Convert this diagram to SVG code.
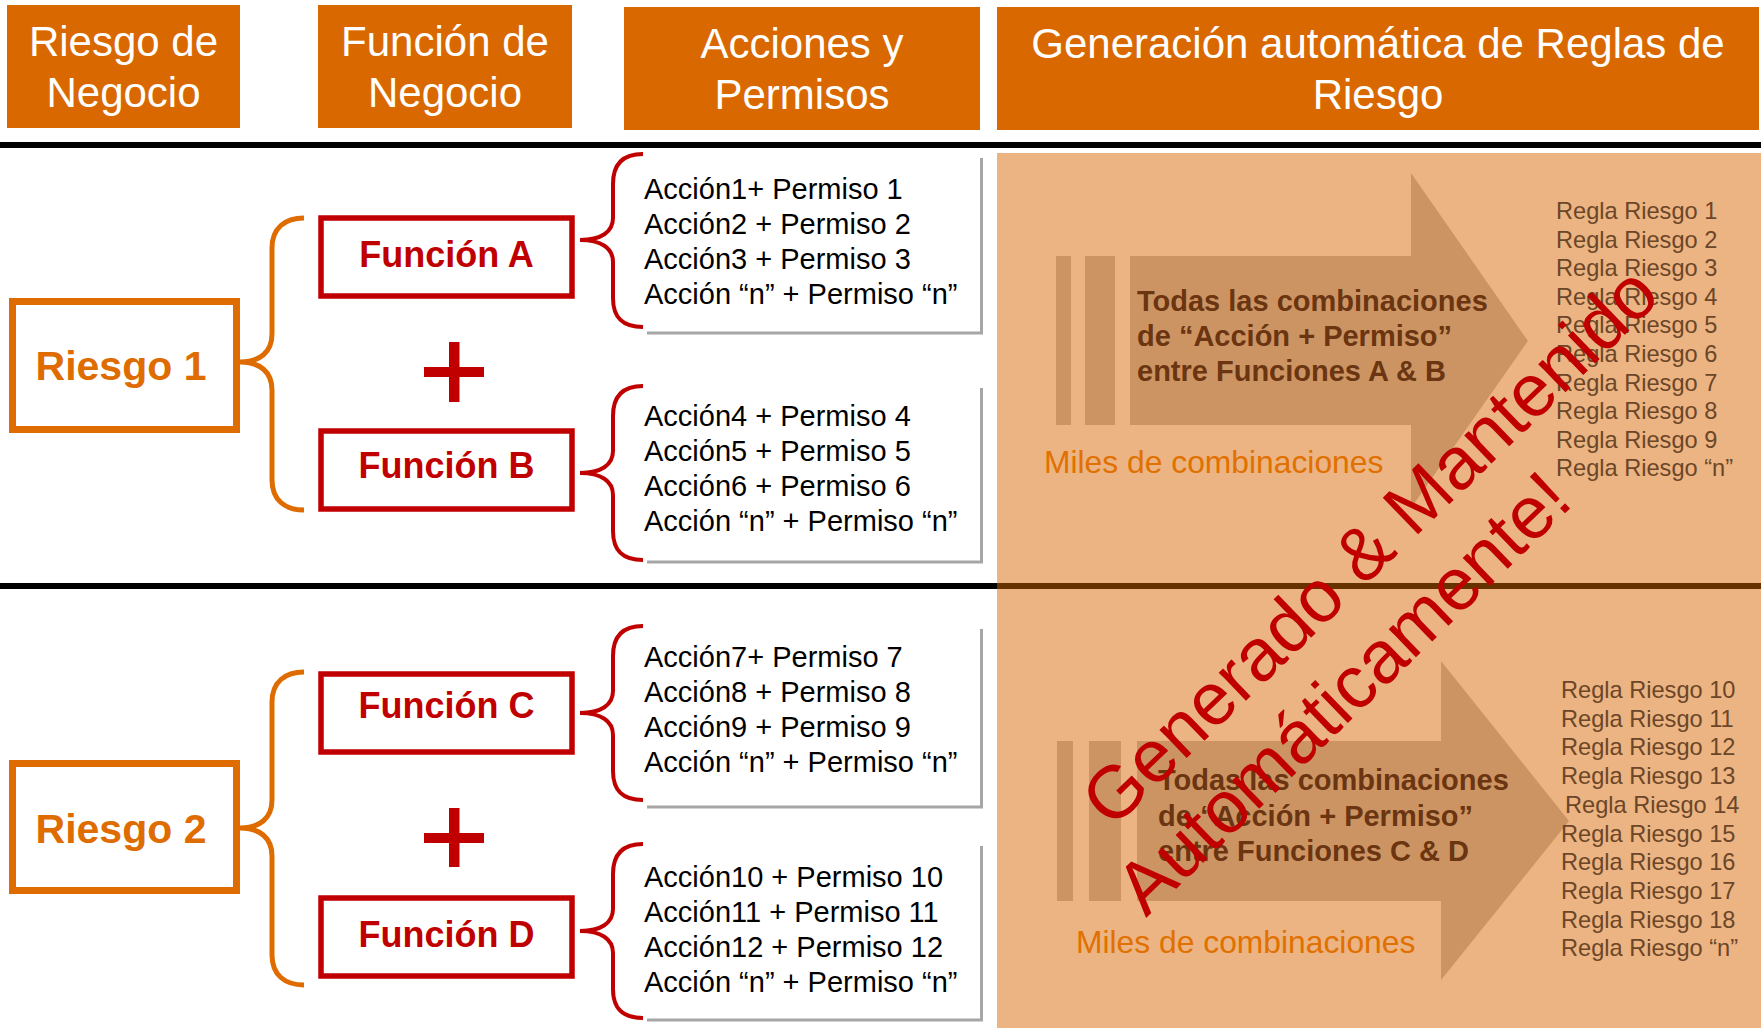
<svg xmlns="http://www.w3.org/2000/svg" width="1761" height="1028" viewBox="0 0 1761 1028">
<defs>
<style>
text{font-family:"Liberation Sans",Arial,Helvetica,sans-serif;}
.hdr{fill:#DA6800;}
.hdrt{fill:#FFFFFF;font-size:42px;text-anchor:middle;}
.rbox{fill:#FFFFFF;stroke:#DE6C00;stroke-width:7;}
.rtxt{fill:#DE6C00;font-size:41px;font-weight:bold;text-anchor:middle;}
.fbox{fill:#FFFFFF;stroke:#C00000;stroke-width:5.5;}
.ftxt{fill:#C00000;font-size:36px;font-weight:bold;text-anchor:middle;}
.plus{fill:#C00000;}
.shadow{fill:none;stroke:#A6A6A6;stroke-width:3;}
.atxt{fill:#000000;font-size:29px;}
.obrace{fill:none;stroke:#DE6C00;stroke-width:5;}
.rbrace{fill:none;stroke:#C00000;stroke-width:4;}
.arrow{fill:#CD9463;}
.btxt{fill:#6A3510;font-size:29px;font-weight:bold;}
.miles{fill:#E07000;font-size:31.8px;}
.regla{fill:#6B4628;font-size:23.6px;}
.wm{fill:#C00000;font-size:74px;}
</style>
</defs>
<rect x="0" y="0" width="1761" height="1028" fill="#FFFFFF"/>

<!-- headers -->
<g id="header-riesgo">
<rect class="hdr" x="7" y="5" width="233" height="123"/>
<text class="hdrt" x="123.5" y="56">Riesgo de</text>
<text class="hdrt" x="123.5" y="107">Negocio</text>
</g>
<g id="header-funcion">
<rect class="hdr" x="318" y="5" width="254" height="123"/>
<text class="hdrt" x="445" y="56">Función de</text>
<text class="hdrt" x="445" y="107">Negocio</text>
</g>
<g id="header-acciones">
<rect class="hdr" x="624" y="7" width="356" height="123"/>
<text class="hdrt" x="802" y="58">Acciones y</text>
<text class="hdrt" x="802" y="109">Permisos</text>
</g>
<g id="header-generacion">
<rect class="hdr" x="997" y="7" width="762" height="123"/>
<text class="hdrt" x="1378" y="58">Generación automática de Reglas de</text>
<text class="hdrt" x="1378" y="109">Riesgo</text>
</g>

<!-- separators -->
<g id="separators">
<rect x="0" y="142" width="1761" height="6" fill="#000000"/>
<rect x="0" y="583" width="997" height="6" fill="#000000"/>
</g>

<!-- right panel -->
<g id="panel">
<rect x="997" y="153" width="764" height="875" fill="#ECB482"/>
<rect x="997" y="583" width="764" height="6" fill="#663300"/>
</g>

<!-- Riesgo nodes -->
<g id="riesgo-1">
<rect class="rbox" x="12.5" y="301.5" width="224" height="128"/>
<text class="rtxt" x="121" y="380">Riesgo 1</text>
</g>
<g id="riesgo-2">
<rect class="rbox" x="12.5" y="763.5" width="224" height="127"/>
<text class="rtxt" x="121" y="843">Riesgo 2</text>
</g>

<!-- Funcion nodes -->
<g id="funcion-a">
<rect class="fbox" x="321" y="218" width="251" height="78"/>
<text class="ftxt" x="446.5" y="267">Función A</text>
</g>
<g id="funcion-b">
<rect class="fbox" x="321" y="431" width="251" height="78"/>
<text class="ftxt" x="446.5" y="478">Función B</text>
</g>
<g id="funcion-c">
<rect class="fbox" x="321" y="674" width="251" height="78"/>
<text class="ftxt" x="446.5" y="718">Función C</text>
</g>
<g id="funcion-d">
<rect class="fbox" x="321" y="898" width="251" height="78"/>
<text class="ftxt" x="446.5" y="947">Función D</text>
</g>

<g id="plus-1">
<rect class="plus" x="449" y="342" width="10.5" height="60"/>
<rect class="plus" x="424" y="367" width="60" height="10"/>
</g>
<g id="plus-2">
<rect class="plus" x="449" y="808" width="10.5" height="59"/>
<rect class="plus" x="424" y="833" width="60" height="10"/>
</g>

<!-- Acciones nodes -->
<g id="acciones-a">
<polyline class="shadow" points="647,333 981.5,333 981.5,158"/>
<text class="atxt" x="644" y="199">Acción1+ Permiso 1</text>
<text class="atxt" x="644" y="234">Acción2 + Permiso 2</text>
<text class="atxt" x="644" y="269">Acción3 + Permiso 3</text>
<text class="atxt" x="644" y="304">Acción “n” + Permiso “n”</text>
</g>
<g id="acciones-b">
<polyline class="shadow" points="647,562 981.5,562 981.5,388"/>
<text class="atxt" x="644" y="426">Acción4 + Permiso 4</text>
<text class="atxt" x="644" y="461">Acción5 + Permiso 5</text>
<text class="atxt" x="644" y="496">Acción6 + Permiso 6</text>
<text class="atxt" x="644" y="531">Acción “n” + Permiso “n”</text>
</g>
<g id="acciones-c">
<polyline class="shadow" points="647,807 981.5,807 981.5,629"/>
<text class="atxt" x="644" y="667">Acción7+ Permiso 7</text>
<text class="atxt" x="644" y="702">Acción8 + Permiso 8</text>
<text class="atxt" x="644" y="737">Acción9 + Permiso 9</text>
<text class="atxt" x="644" y="772">Acción “n” + Permiso “n”</text>
</g>
<g id="acciones-d">
<polyline class="shadow" points="647,1020 981.5,1020 981.5,846"/>
<text class="atxt" x="644" y="887">Acción10 + Permiso 10</text>
<text class="atxt" x="644" y="922">Acción11 + Permiso 11</text>
<text class="atxt" x="644" y="957">Acción12 + Permiso 12</text>
<text class="atxt" x="644" y="992">Acción “n” + Permiso “n”</text>
</g>

<!-- connectors (braces) -->
<g id="connectors">
<path class="obrace" d="M304,218 C285,218 272,228 272,248 L272,334 C272,352 260,362 240,362 C260,362 272,372 272,390 L272,480 C272,500 285,510 304,510"/>
<path class="obrace" d="M304,672 C285,672 272,682 272,702 L272,800 C272,818 260,828 240,828 C260,828 272,838 272,856 L272,955 C272,975 285,985 304,985"/>
<path class="rbrace" d="M643,154 C623,154 613,164 613,184 L613,218 C613,232 601,240 580,240 C601,240 613,248 613,262 L613,298 C613,318 623,327 643,327"/>
<path class="rbrace" d="M643,386 C623,386 613,396 613,416 L613,451 C613,465 601,473 580,473 C601,473 613,481 613,495 L613,531 C613,551 623,560 643,560"/>
<path class="rbrace" d="M643,626 C623,626 613,636 613,656 L613,691 C613,705 601,713 580,713 C601,713 613,721 613,735 L613,771 C613,791 623,800 643,800"/>
<path class="rbrace" d="M643,844 C623,844 613,854 613,874 L613,909 C613,923 601,931 580,931 C601,931 613,939 613,953 L613,989 C613,1009 623,1018 643,1018"/>
</g>

<!-- generation arrows -->
<g id="arrow-ab">
<rect class="arrow" x="1056" y="256" width="15" height="169"/>
<rect class="arrow" x="1085" y="256" width="30" height="169"/>
<polygon class="arrow" points="1130,256 1411,256 1411,173 1528,341 1411,508 1411,425 1130,425"/>
<text class="btxt" x="1137" y="311">Todas las combinaciones</text>
<text class="btxt" x="1137" y="346">de “Acción + Permiso”</text>
<text class="btxt" x="1137" y="381">entre Funciones A &amp; B</text>
<text class="miles" x="1044" y="473">Miles de combinaciones</text>
</g>
<g id="arrow-cd">
<rect class="arrow" x="1057" y="741" width="16" height="160"/>
<rect class="arrow" x="1089" y="741" width="32" height="160"/>
<polygon class="arrow" points="1137,741 1441,741 1441,661 1569,821 1441,980 1441,901 1137,901"/>
<text class="btxt" x="1158" y="790">Todas las combinaciones</text>
<text class="btxt" x="1158" y="826">de “Acción + Permiso”</text>
<text class="btxt" x="1158" y="861">entre Funciones C &amp; D</text>
<text class="miles" x="1076" y="953">Miles de combinaciones</text>
</g>

<g id="reglas-1">
<text class="regla" x="1556" y="219">Regla Riesgo 1</text>
<text class="regla" x="1556" y="247.6">Regla Riesgo 2</text>
<text class="regla" x="1556" y="276.2">Regla Riesgo 3</text>
<text class="regla" x="1556" y="304.8">Regla Riesgo 4</text>
<text class="regla" x="1556" y="333.4">Regla Riesgo 5</text>
<text class="regla" x="1556" y="362">Regla Riesgo 6</text>
<text class="regla" x="1556" y="390.6">Regla Riesgo 7</text>
<text class="regla" x="1556" y="419.2">Regla Riesgo 8</text>
<text class="regla" x="1556" y="447.8">Regla Riesgo 9</text>
<text class="regla" x="1556" y="476.4">Regla Riesgo “n”</text>
</g>
<g id="reglas-2">
<text class="regla" x="1561" y="698">Regla Riesgo 10</text>
<text class="regla" x="1561" y="726.7">Regla Riesgo 11</text>
<text class="regla" x="1561" y="755.4">Regla Riesgo 12</text>
<text class="regla" x="1561" y="784.1">Regla Riesgo 13</text>
<text class="regla" x="1565" y="812.8">Regla Riesgo 14</text>
<text class="regla" x="1561" y="841.5">Regla Riesgo 15</text>
<text class="regla" x="1561" y="870.2">Regla Riesgo 16</text>
<text class="regla" x="1561" y="898.9">Regla Riesgo 17</text>
<text class="regla" x="1561" y="927.6">Regla Riesgo 18</text>
<text class="regla" x="1561" y="956.3">Regla Riesgo “n”</text>
</g>

<g id="watermark">
<text class="wm" transform="translate(1112,830) rotate(-44)">Generado &amp; Mantenido</text>
<text class="wm" transform="translate(1146,918) rotate(-44)">Automáticamente!</text>
</g>
</svg>
